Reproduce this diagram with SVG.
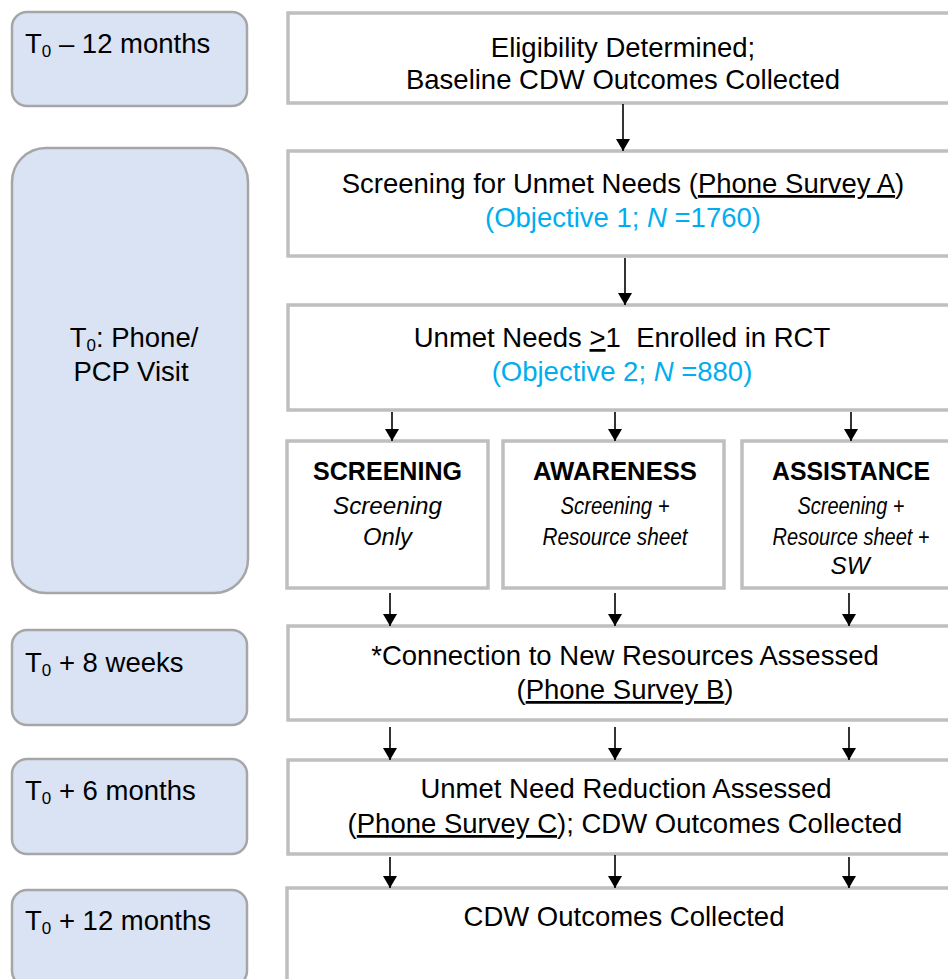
<svg xmlns="http://www.w3.org/2000/svg" width="948" height="979" viewBox="0 0 948 979">
<defs>
<style>
.tl{fill:#DAE3F3;stroke:#A6A6A6;stroke-width:2.5}
.bx{fill:#FFFFFF;stroke:#BFBFBF;stroke-width:3.5}
text{font-family:"Liberation Sans",Arial,sans-serif;fill:#000}
.t{font-size:27.5px}
.c{text-anchor:middle}
.blue{fill:#00AEEF}
.sub{font-size:17px}
.hd{font-size:25px;font-weight:bold;text-anchor:middle}
.it{font-size:24px;font-style:italic;text-anchor:middle}
.ar{stroke:#000;stroke-width:1.6;fill:none;marker-end:url(#ah)}
</style>
<marker id="ah" markerUnits="userSpaceOnUse" viewBox="0 0 12 14" refX="12" refY="7" markerWidth="12" markerHeight="14" orient="auto">
<path d="M0,0 L12,7 L0,14 Z" fill="#000"/>
</marker>
</defs>
<rect width="948" height="979" fill="#FFFFFF"/>

<g id="time-t0-minus12">
<rect class="tl" x="12" y="12" width="235" height="94" rx="15"/>
<text class="t" x="25" y="53">T<tspan class="sub" dy="4">0</tspan><tspan dy="-4"> – 12 months</tspan></text>
</g>
<g id="time-t0">
<rect class="tl" x="12" y="148" width="236" height="445" rx="34"/>
<text class="t c" x="134" y="347">T<tspan class="sub" dy="4">0</tspan><tspan dy="-4">: Phone/</tspan></text>
<text class="t c" x="131" y="381">PCP Visit</text>
</g>
<g id="time-8weeks">
<rect class="tl" x="12" y="630" width="235" height="95" rx="15"/>
<text class="t" x="25" y="672">T<tspan class="sub" dy="4">0</tspan><tspan dy="-4"> + 8 weeks</tspan></text>
</g>
<g id="time-6months">
<rect class="tl" x="12" y="759" width="235" height="95" rx="15"/>
<text class="t" x="25" y="800">T<tspan class="sub" dy="4">0</tspan><tspan dy="-4"> + 6 months</tspan></text>
</g>
<g id="time-12months">
<rect class="tl" x="12" y="890" width="235" height="96" rx="15"/>
<text class="t" x="25" y="930">T<tspan class="sub" dy="4">0</tspan><tspan dy="-4"> + 12 months</tspan></text>
</g>

<g id="eligibility">
<rect class="bx" x="288" y="13" width="680" height="90"/>
<text class="t c" x="623" y="57">Eligibility Determined;</text>
<text class="t c" x="623" y="89">Baseline CDW Outcomes Collected</text>
</g>
<g id="screening-survey">
<rect class="bx" x="288" y="151" width="680" height="105"/>
<text class="t c" x="623" y="193">Screening for Unmet Needs (<tspan text-decoration="underline">Phone Survey A</tspan>)</text>
<text class="t c blue" x="623" y="227">(Objective 1; <tspan font-style="italic">N</tspan> =1760)</text>
</g>
<g id="enrolled">
<rect class="bx" x="288" y="305" width="680" height="105"/>
<text class="t c" x="622" y="347">Unmet Needs <tspan text-decoration="underline">&gt;</tspan>1 &#160;Enrolled in RCT</text>
<text class="t c blue" x="622" y="381">(Objective 2; <tspan font-style="italic">N</tspan> =880)</text>
</g>
<g id="arm-screening">
<rect class="bx" x="287" y="441" width="201" height="147"/>
<text class="hd" x="387.5" y="480" textLength="149" lengthAdjust="spacingAndGlyphs">SCREENING</text>
<text class="it" x="387.5" y="514" textLength="109" lengthAdjust="spacingAndGlyphs">Screening</text>
<text class="it" x="387.5" y="545" textLength="49" lengthAdjust="spacingAndGlyphs">Only</text>
</g>
<g id="arm-awareness">
<rect class="bx" x="503" y="441" width="221" height="147"/>
<text class="hd" x="615" y="480" textLength="164" lengthAdjust="spacingAndGlyphs">AWARENESS</text>
<text class="it" x="615" y="514" textLength="109" lengthAdjust="spacingAndGlyphs">Screening +</text>
<text class="it" x="615" y="545" textLength="145" lengthAdjust="spacingAndGlyphs">Resource sheet</text>
</g>
<g id="arm-assistance">
<rect class="bx" x="742" y="441" width="226" height="147"/>
<text class="hd" x="851" y="480" textLength="158" lengthAdjust="spacingAndGlyphs">ASSISTANCE</text>
<text class="it" x="851" y="514" textLength="107" lengthAdjust="spacingAndGlyphs">Screening +</text>
<text class="it" x="851" y="545" textLength="157" lengthAdjust="spacingAndGlyphs">Resource sheet +</text>
<text class="it" x="850" y="574" textLength="39" lengthAdjust="spacingAndGlyphs">SW</text>
</g>
<g id="connection">
<rect class="bx" x="288" y="626" width="680" height="94"/>
<text class="t c" x="625" y="665">*Connection to New Resources Assessed</text>
<text class="t c" x="625" y="699">(<tspan text-decoration="underline">Phone Survey B</tspan>)</text>
</g>
<g id="reduction">
<rect class="bx" x="288" y="760" width="680" height="94"/>
<text class="t c" x="626" y="798">Unmet Need Reduction Assessed</text>
<text class="t c" x="625" y="833">(<tspan text-decoration="underline">Phone Survey C</tspan>); CDW Outcomes Collected</text>
</g>
<g id="cdw-final">
<rect class="bx" x="287" y="888" width="681" height="110"/>
<text class="t c" x="624" y="926">CDW Outcomes Collected</text>
</g>

<g id="connectors">
<path class="ar" d="M623,104 V151"/>
<path class="ar" d="M625,258 V305"/>
<path class="ar" d="M392,412 V441"/>
<path class="ar" d="M615,412 V441"/>
<path class="ar" d="M851,412 V441"/>
<path class="ar" d="M390,593 V626"/>
<path class="ar" d="M615,593 V626"/>
<path class="ar" d="M849,593 V626"/>
<path class="ar" d="M390,727 V760"/>
<path class="ar" d="M615,727 V760"/>
<path class="ar" d="M849,727 V760"/>
<path class="ar" d="M390,857 V888"/>
<path class="ar" d="M615,855 V888"/>
<path class="ar" d="M849,857 V888"/>
</g>
</svg>
